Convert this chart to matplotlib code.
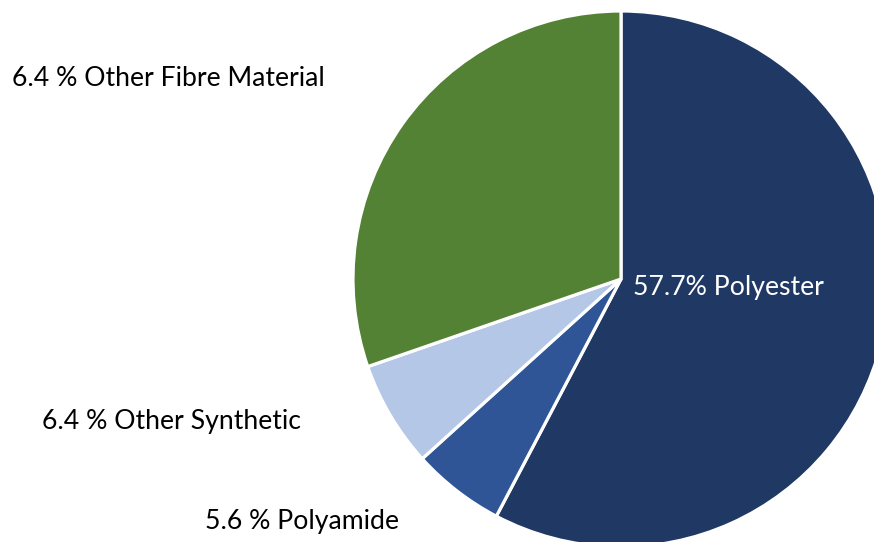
import matplotlib
matplotlib.use('Agg')
import matplotlib.pyplot as plt

# fibre shares (clockwise from 12 o'clock)
labels = ['57.7% Polyester', '5.6 % Polyamide', '6.4 % Other Synthetic', '6.4 % Other Fibre Material']
shares = [57.7, 5.6, 6.4, 30.3]
colors = ['#203864', '#2F5597', '#B4C7E7', '#548235']

plt.rcParams['font.family'] = ['Lato', 'DejaVu Sans']

W, H = 874, 542
fig = plt.figure(figsize=(W / 100, H / 100), dpi=100)

# pie centre / radius in pixels (pie runs off the right and bottom edges)
cx, cy, r = 621, 279, 268
ax = fig.add_axes([(cx - r) / W, (H - cy - r) / H, 2 * r / W, 2 * r / H])
ax.pie(shares, colors=colors, startangle=90, counterclock=False,
       wedgeprops=dict(edgecolor='white', linewidth=2.3))
ax.set_xlim(-1, 1)
ax.set_ylim(-1, 1)
ax.axis('off')

fs = 19.2
fig.text(12 / W, 1 - 78 / H, labels[3], fontsize=fs, va='center', ha='left', color='black')
fig.text(42 / W, 1 - 422 / H, labels[2], fontsize=fs, va='center', ha='left', color='black')
fig.text(205 / W, 1 - 521 / H, labels[1], fontsize=fs, va='center', ha='left', color='black')
fig.text(633 / W, 1 - 287 / H, labels[0], fontsize=fs, va='center', ha='left', color='white')

fig.savefig('out.png', dpi=100)
